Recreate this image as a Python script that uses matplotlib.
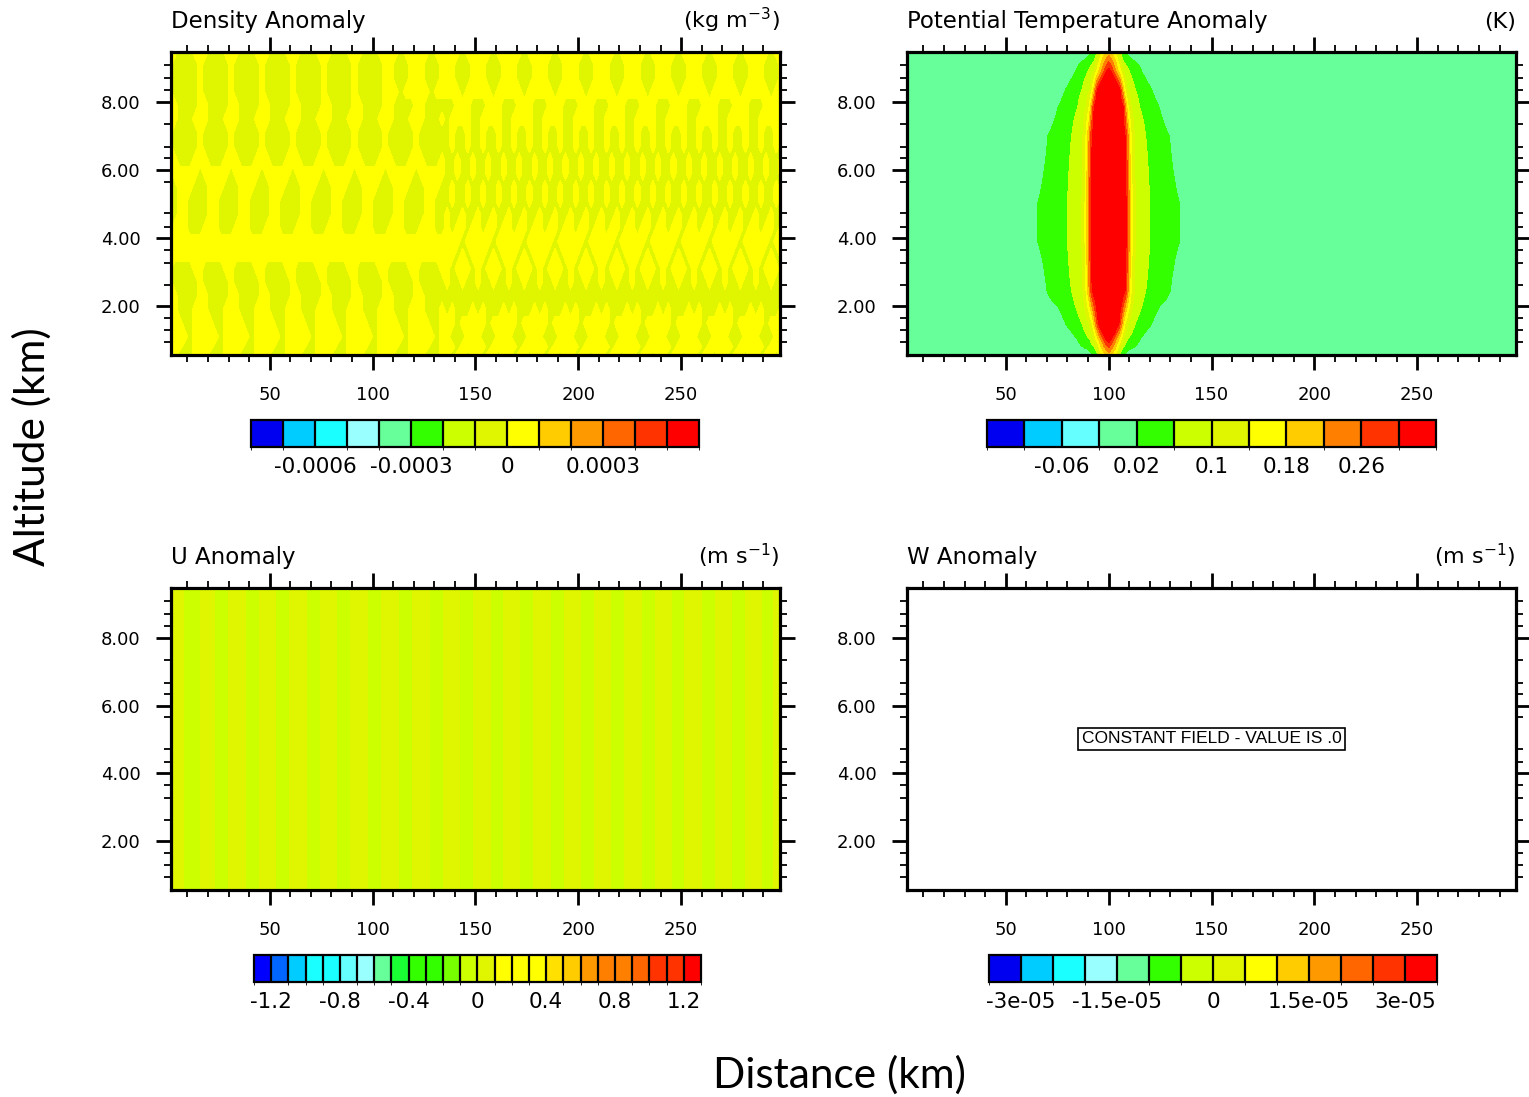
"""Four-panel anomaly cross sections (density, theta, u, w) in the NCL look."""
import numpy as np
import matplotlib
matplotlib.use("Agg")
import matplotlib.pyplot as plt
from matplotlib.colors import ListedColormap, BoundaryNorm
from matplotlib.cm import ScalarMappable

plt.rcParams.update({
    "font.family": "DejaVu Sans",
    "axes.unicode_minus": False,
    "mathtext.default": "regular",
})

# ---- axes ----
X_LIM = (2, 298)
Y_LIM = (0.56, 9.47)
X_TICKS = [50, 100, 150, 200, 250]
Y_TICKS = [2, 4, 6, 8]
# model levels drawn as minor ticks on the height axis
Y_MINOR = [0.95, 1.29, 1.64, 2.62, 3.27, 3.65, 4.33, 4.73, 5.66, 6.34, 6.68,
           7.34, 8.35, 8.70, 9.09]

# ---- colour tables ----
COLS_14 = ["#0000f0", "#00ccff", "#1affff", "#99ffff", "#66ff99", "#33ff00",
           "#ccff00", "#e0f500", "#ffff00", "#ffcc00", "#ff9900", "#ff6600",
           "#ff3300", "#ff0000"]
COLS_12 = ["#0000f0", "#00ccff", "#66ffff", "#66ff99", "#33ff00", "#ccff00",
           "#e0f500", "#ffff00", "#ffcc00", "#ff8000", "#ff3300", "#ff0000"]
COLS_26 = ["#0000ff", "#0066ff", "#00ccff", "#1affff", "#1affff", "#66ffff",
           "#99ffff", "#66ff99", "#19ff33", "#33ff00", "#33ff00", "#77ff00",
           "#ccff00", "#e0f500", "#ffff00", "#ffff00", "#ffff00", "#ffe000",
           "#ffcc00", "#ff9900", "#ff8000", "#ff8000", "#ff6600", "#ff3300",
           "#ff3300", "#ff0000"]

# ---- contour levels and label bars ----
DENS_LEVELS = [-0.0007, -0.0006, -0.0005, -0.0004, -0.0003, -0.0002, -0.0001,
               0.0, 0.0001, 0.0002, 0.0003, 0.0004, 0.0005]
DENS_TICKS = [-0.0006, -0.0003, 0.0, 0.0003]
DENS_LABELS = ["-0.0006", "-0.0003", "0", "0.0003"]

THETA_LEVELS = [-0.1, -0.06, -0.02, 0.02, 0.06, 0.1, 0.14, 0.18, 0.22, 0.26, 0.3]
THETA_TICKS = [-0.06, 0.02, 0.1, 0.18, 0.26]
THETA_LABELS = ["-0.06", "0.02", "0.1", "0.18", "0.26"]

U_LEVELS = [-1.2, -1.1, -1.0, -0.9, -0.8, -0.7, -0.6, -0.5, -0.4, -0.3, -0.2,
            -0.1, 0.0, 0.1, 0.2, 0.3, 0.4, 0.5, 0.6, 0.7, 0.8, 0.9, 1.0, 1.1, 1.2]
U_TICKS = [-1.2, -0.8, -0.4, 0.0, 0.4, 0.8, 1.2]
U_LABELS = ["-1.2", "-0.8", "-0.4", "0", "0.4", "0.8", "1.2"]

W_LEVELS = [-3e-05, -2.5e-05, -2e-05, -1.5e-05, -1e-05, -5e-06, 0.0, 5e-06,
            1e-05, 1.5e-05, 2e-05, 2.5e-05, 3e-05]
W_TICKS = [-3e-05, -1.5e-05, 0.0, 1.5e-05, 3e-05]
W_LABELS = ["-3e-05", "-1.5e-05", "0", "1.5e-05", "3e-05"]

# ---- density anomaly: sign pattern ----
# cells 2.5 km wide, 6 cells per 15 km wave; '+' weakly positive, '-' weakly
# negative.  Each row: height, left motif, right motif, left repeats (of 20).
DENS_DX = 2.5
DENS_AMP = 0.00005
DENS_Y = [9.47, 9.1, 8.7, 8.3, 7.9, 7.5, 7.1, 6.7, 6.3, 5.9, 5.5, 5.1, 4.7,
          4.3, 3.9, 3.5, 3.1, 2.7, 2.3, 1.9, 1.5, 1.1, 0.8, 0.56]
DENS_LEFT = ["++---+", "+-----", "+-----", "+-----", "++----", "++---+",
             "+-----", "+-----", "++---+", "-+++++", "--+++-", "--++--",
             "--++--", "-+++--", "++++++", "++++++", "+----+", "+-----",
             "++----", "++---+", "+++--+", "++++-+", "+++--+", "++---+"]
DENS_RIGHT = ["+++-++", "++---+", "++---+", "+++-++", "--+++-", "-++++-",
              "-+--+-", "-+--+-", "--+--+", "--+--+", "-+--+-", "-+--+-",
              "+--+--", "+-++-+", "+++-++", "++-+-+", "+-+++-", "+--+--",
              "------", "-+---+", "++-+++", "+---++", "++-+++", "+-++-+"]
DENS_NLEFT = [7, 7, 7, 7, 9, 9, 9, 9, 9, 9, 9, 9, 9, 9, 9, 9, 9, 9, 9, 9, 9,
              9, 9, 9]

# ---- potential temperature bubble ----
THETA_X0 = 100.0
THETA_Y = [9.47, 8.9, 8.35, 7.85, 7.0, 5.0, 3.9, 2.45, 1.5, 1.0, 0.56]
THETA_PEAK = [0.2, 0.32, 0.5, 0.5, 0.5, 0.5, 0.5, 0.5, 0.5, 0.32, 0.2]
# half widths (km) where the anomaly crosses these values, per row
THETA_CROSS = [0.3, 0.14, 0.1, 0.06, 0.02]
THETA_HALF = [
    [np.nan, 3.5, 4.5, 5.5, 7.3],
    [1.0, 6.0, 7.0, 10.0, 16.0],
    [5.5, 8.0, 9.0, 13.0, 21.0],
    [7.0, 9.5, 11.0, 15.0, 24.5],
    [8.0, 11.0, 12.5, 18.0, 29.5],
    [8.5, 11.5, 13.0, 20.0, 34.5],
    [8.5, 11.5, 13.0, 20.0, 34.5],
    [8.0, 11.0, 12.5, 18.0, 30.0],
    [5.0, 8.0, 9.5, 13.0, 21.0],
    [1.0, 6.0, 7.0, 9.0, 15.0],
    [np.nan, 3.5, 4.5, 5.0, 6.5],
]
THETA_TAIL = 4.0   # km from the 0.02 edge to the flat background

# ---- u anomaly: weak columns, negative stripe centres (km) ----
U_STRIPES = [13, 26.5, 41.5, 56.5, 71, 86, 101, 116, 131, 145.7, 160.5, 175,
             190, 204.5, 219, 234, 248.5, 263, 278, 292.5]
U_NEG = -0.03
U_POS = 0.04


def norm_for(levels, colors):
    bounds = [levels[0] - 1.0] + list(levels) + [levels[-1] + 1.0]
    return bounds, ListedColormap(colors), BoundaryNorm(bounds, len(colors))


def style_axes(ax, title, units):
    ax.set_xlim(*X_LIM)
    ax.set_ylim(*Y_LIM)
    ax.set_xticks(X_TICKS)
    ax.set_xticks(range(10, 300, 10), minor=True)
    ax.set_yticks(Y_TICKS)
    ax.set_yticks(Y_MINOR, minor=True)
    ax.yaxis.set_major_formatter("{x:.2f}")
    ax.tick_params(which="both", direction="out", top=True, right=True,
                   labelsize=13)
    ax.tick_params(which="major", length=11, width=2.0, pad=11)
    ax.tick_params(which="minor", length=5, width=1.3)
    for sp in ax.spines.values():
        sp.set_linewidth(2.3)
    ax.text(0.0, 1.08, title, transform=ax.transAxes, ha="left",
            va="baseline", fontsize=16.5)
    ax.text(1.0, 1.08, units, transform=ax.transAxes, ha="right",
            va="baseline", fontsize=16)


def label_bar(fig, rect, levels, colors, ticks, labels):
    _, cmap, norm = norm_for(levels, colors)
    cax = fig.add_axes(rect)
    sm = ScalarMappable(norm=norm, cmap=cmap)
    cb = fig.colorbar(sm, cax=cax, orientation="horizontal",
                      spacing="uniform", drawedges=True, ticks=ticks)
    cb.set_ticklabels(labels)
    cb.outline.set_linewidth(1.6)
    cb.dividers.set_linewidth(1.6)
    cax.tick_params(length=0, labelsize=15.5, pad=7)


fig = plt.figure(figsize=(15.29, 10.97), dpi=100)

# density
ax = fig.add_axes([0.1118, 0.6764, 0.3983, 0.2762])
dens_rows = [lm * n + rm * (20 - n)
             for lm, rm, n in zip(DENS_LEFT, DENS_RIGHT, DENS_NLEFT)]
dens_x = DENS_DX / 2 + DENS_DX * np.arange(len(dens_rows[0]))
dens_z = np.array([[DENS_AMP if c == "+" else -DENS_AMP for c in row]
                   for row in dens_rows])
bounds, cmap, norm = norm_for(DENS_LEVELS, COLS_14)
ax.contourf(dens_x, DENS_Y, dens_z, levels=bounds, cmap=cmap, norm=norm)
style_axes(ax, "Density Anomaly", "(kg m$^{-3}$)")
label_bar(fig, [0.1642, 0.5925, 0.2930, 0.0246], DENS_LEVELS, COLS_14,
          DENS_TICKS, DENS_LABELS)

# potential temperature
ax = fig.add_axes([0.5932, 0.6764, 0.3983, 0.2762])
theta_x = np.linspace(X_LIM[0], X_LIM[1], 593)
theta_rows = []
for peak, half in zip(THETA_PEAK, THETA_HALF):
    d, v = [0.0], [peak]
    for lev, h in zip(THETA_CROSS, half):
        if not np.isnan(h):
            d.append(h)
            v.append(lev)
    d += [half[-1] + THETA_TAIL, 300.0]
    v += [0.0, 0.0]
    theta_rows.append(np.interp(np.abs(theta_x - THETA_X0), d, v))
bounds, cmap, norm = norm_for(THETA_LEVELS, COLS_12)
ax.contourf(theta_x, THETA_Y, np.array(theta_rows), levels=bounds, cmap=cmap,
            norm=norm)
style_axes(ax, "Potential Temperature Anomaly", "(K)")
label_bar(fig, [0.6455, 0.5925, 0.2937, 0.0246], THETA_LEVELS, COLS_12,
          THETA_TICKS, THETA_LABELS)

# u
ax = fig.add_axes([0.1118, 0.1887, 0.3983, 0.2753])
u_x, u_v = [X_LIM[0]], [U_POS]
for i, xc in enumerate(U_STRIPES):
    if i > 0:
        u_x.append((U_STRIPES[i - 1] + xc) / 2)
        u_v.append(U_POS)
    u_x.append(xc)
    u_v.append(U_NEG)
u_x.append(X_LIM[1])
u_v.append(U_POS)
bounds, cmap, norm = norm_for(U_LEVELS, COLS_26)
ax.contourf(u_x, list(Y_LIM), np.vstack([u_v, u_v]), levels=bounds,
            cmap=cmap, norm=norm)
style_axes(ax, "U Anomaly", "(m s$^{-1}$)")
label_bar(fig, [0.1661, 0.1048, 0.2923, 0.0246], U_LEVELS, COLS_26,
          U_TICKS, U_LABELS)

# w: constant field, nothing to fill
ax = fig.add_axes([0.5932, 0.1887, 0.3983, 0.2753])
style_axes(ax, "W Anomaly", "(m s$^{-1}$)")
ax.text(0.5, 0.5, "CONSTANT FIELD - VALUE IS .0", transform=ax.transAxes,
        ha="center", va="center", fontsize=12.5, family="Liberation Sans",
        bbox=dict(boxstyle="square,pad=0.2", fc="white", ec="black", lw=1.2))
label_bar(fig, [0.6468, 0.1048, 0.2930, 0.0246], W_LEVELS, COLS_14,
          W_TICKS, W_LABELS)

fig.text(0.021, 0.5925, "Altitude (km)", rotation=90, ha="center",
         va="center", fontsize=30.5, family="Lato")
fig.text(0.549, 0.02, "Distance (km)", ha="center", va="center",
         fontsize=30.5, family="Lato")

fig.savefig("out.png", dpi=100)
